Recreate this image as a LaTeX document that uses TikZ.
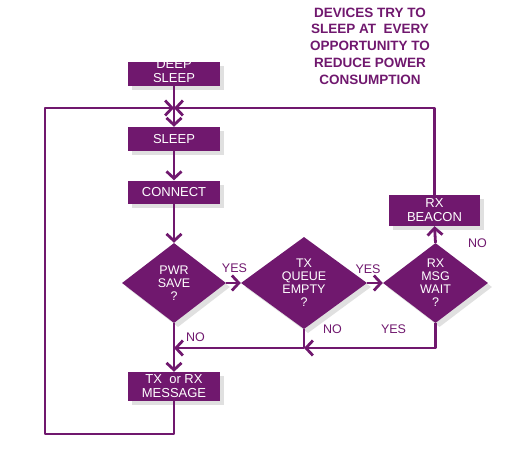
\documentclass[tikz,border=0pt]{standalone}
\usepackage{fontspec}
\setmainfont{Liberation Sans}
\usetikzlibrary{arrows.meta, shapes.geometric, shadows}
\definecolor{zpurple}{RGB}{112,24,110}

\begin{document}
\begin{tikzpicture}[x=1pt, y=-1pt, >={Straight Barb[length=7pt, width=15pt]},
    flow/.style={draw=zpurple, line width=2.8pt, line join=round},
    shade/.style={drop shadow={fill=black!30, opacity=0.4,
                  shadow xshift=4pt, shadow yshift=-4pt}},
    box/.style={fill=zpurple, text=white, inner sep=0pt, minimum width=92pt,
                align=center, font=\fontsize{13}{14}\selectfont, shade},
    dia/.style={diamond, fill=zpurple, text=white, inner sep=0pt,
                align=center, font=\fontsize{12.5}{13}\selectfont, shade},
    lbl/.style={text=zpurple, font=\fontsize{12.5}{14}\selectfont}]
  \useasboundingbox (0,0) rectangle (513,468);

  % Note on top
  \node[text=zpurple, align=center, font=\bfseries\fontsize{13.5}{16.7}\selectfont]
    (note) at (370,46) {DEVICES TRY TO\\SLEEP AT\ \ EVERY\\OPPORTUNITY TO\\REDUCE POWER\\CONSUMPTION};

  % Boxes
  \node[box, minimum height=24pt] (deep) at (174,74) {};
  \node[text=white, align=center, font=\fontsize{13}{14}\selectfont] (deeptxt) at (174,71.5) {DEEP\\SLEEP};
  \node[box, minimum height=24pt] (sleep) at (174,139) {SLEEP};
  \node[box, minimum height=23pt] (connect) at (174,192) {CONNECT};
  \node[box, minimum width=91pt, minimum height=31pt] (beacon) at (434.5,210.5) {RX\\BEACON};
  \node[box, minimum height=29pt] (msg) at (174,386.5) {TX\ \ or RX\\MESSAGE};

  % Decisions
  \node[dia, minimum width=104pt, minimum height=80pt] (pwr) at (174,283) {PWR\\SAVE\\?};
  \node[dia, minimum width=126pt, minimum height=80pt] (txq) at (304,283) {TX\\QUEUE\\EMPTY\\?};
  \node[dia, minimum width=105pt, minimum height=80pt] (rxw) at (435.5,283) {RX\\MSG\\WAIT\\?};

  % Corners and joins
  \coordinate (jn) at (174,108);
  \coordinate (lb) at (45,434);
  \coordinate (mg) at (304,348);
  \coordinate (mp) at (174,348);

  % Flow
  \draw[flow] (deep.south) -- (jn);
  \draw[flow, ->] (jn) -- (sleep.north);
  \draw[flow, ->] (sleep.south) -- (connect.north);
  \draw[flow, ->] (connect.south) -- (pwr.north);
  \draw[flow, ->] (pwr.east) -- (txq.west);
  \draw[flow, ->] (txq.east) -- (rxw.west);
  \draw[flow, ->] (rxw.north) -- (beacon.south);
  \draw[flow, ->] (beacon.north) |- (jn);
  \draw[flow, ->] (msg.south) |- (lb) |- (jn);
  \draw[flow, ->] (pwr.south) -- (msg.north);
  \draw[flow] (txq.south) -- (mg);
  \draw[flow, ->] (rxw.south) |- (mg);
  \draw[flow, ->] (mg) -- (mp);

  % Branch labels
  \node[lbl] (yes1) at (234.5,268) {YES};
  \node[lbl] (yes2) at (368,269) {YES};
  \node[lbl] (no1) at (477.5,243) {NO};
  \node[lbl] (no2) at (195.5,337) {NO};
  \node[lbl] (no3) at (332.5,329) {NO};
  \node[lbl] (yes3) at (393.5,329) {YES};
\end{tikzpicture}
\end{document}
